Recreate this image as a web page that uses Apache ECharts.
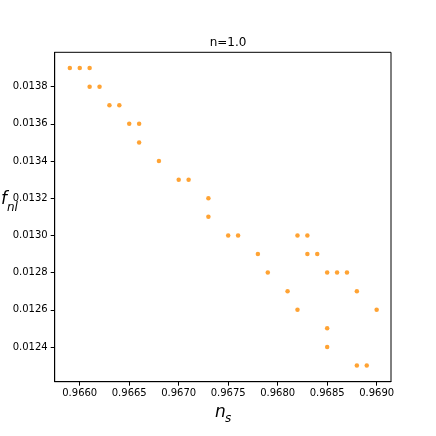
<!DOCTYPE html>
<html>
<head>
<meta charset="utf-8">
<script src="https://cdn.jsdelivr.net/npm/echarts@6/dist/echarts.min.js"></script>
<style>html,body{margin:0;padding:0;background:#fff}#c{width:436px;height:436px}</style>
</head>
<body>
<div id="c"></div>
<script>
var nsValues = [0.9659, 0.9660, 0.9661, 0.9661, 0.9662, 0.9663, 0.9664, 0.9665, 0.9666, 0.9666,
  0.9668, 0.9670, 0.9671, 0.9673, 0.9673, 0.9675, 0.9676, 0.9682, 0.9683, 0.9678,
  0.9683, 0.9684, 0.9679, 0.9685, 0.9686, 0.9687, 0.9681, 0.9688, 0.9682, 0.9690,
  0.9685, 0.9685, 0.9688, 0.9689];
var fnlValues = [0.0139, 0.0139, 0.0139, 0.0138, 0.0138, 0.0137, 0.0137, 0.0136, 0.0136, 0.0135,
  0.0134, 0.0133, 0.0133, 0.0132, 0.0131, 0.0130, 0.0130, 0.0130, 0.0130, 0.0129,
  0.0129, 0.0129, 0.0128, 0.0128, 0.0128, 0.0128, 0.0127, 0.0127, 0.0126, 0.0126,
  0.0125, 0.0124, 0.0123, 0.0123];
var xTicks = [0.9660, 0.9665, 0.9670, 0.9675, 0.9680, 0.9685, 0.9690];
var yTicks = [0.0124, 0.0126, 0.0128, 0.0130, 0.0132, 0.0134, 0.0136, 0.0138];
var titleText = 'n=1.0';

var points = nsValues.map(function (x, i) { return [x, fnlValues[i]]; });
var font = 'DejaVu Sans';
var chart = echarts.init(document.getElementById('c'), null, {renderer: 'canvas'});
chart.setOption({
  animation: false,
  backgroundColor: '#fff',
  title: {
    text: titleText, left: 223, top: 32, textAlign: 'center',
    textStyle: {fontFamily: font, fontSize: 12, fontWeight: 'normal', color: '#000'}
  },
  grid: {left: 54.7, right: 45, top: 52.3, bottom: 54.3, show: true, borderColor: '#000', borderWidth: 1, backgroundColor: 'transparent'},
  xAxis: {
    type: 'value', min: 0.965747, max: 0.969145,
    splitLine: {show: false},
    axisLine: {show: true, lineStyle: {color: '#000', width: 1}},
    axisTick: {show: true, length: 4, inside: false, customValues: xTicks, lineStyle: {color: '#000', width: 1}},
    axisLabel: {customValues: xTicks, margin: 7, fontFamily: font, fontSize: 10, color: '#000',
      formatter: function (v) { return v.toFixed(4); }}
  },
  yAxis: {
    type: 'value', min: 0.012213, max: 0.013985,
    splitLine: {show: false},
    axisLine: {show: true, lineStyle: {color: '#000', width: 1}},
    axisTick: {show: true, length: 4, inside: false, customValues: yTicks, lineStyle: {color: '#000', width: 1}},
    axisLabel: {customValues: yTicks, margin: 7, fontFamily: font, fontSize: 10, color: '#000',
      formatter: function (v) { return v.toFixed(4); }}
  },
  graphic: [
    {type: 'text', x: 215, y: 404, style: {text: 'n', font: 'italic 17px "DejaVu Sans"', fill: '#000'}},
    {type: 'text', x: 225, y: 413, style: {text: 's', font: 'italic 12px "DejaVu Sans"', fill: '#000'}},
    {type: 'text', x: 1, y: 191, style: {text: 'f', font: 'italic 17px "DejaVu Sans"', fill: '#000'}},
    {type: 'text', x: 7, y: 202, style: {text: 'nl', font: 'italic 12px "DejaVu Sans"', fill: '#000'}}
  ],
  series: [{
    type: 'scatter', data: points, symbol: 'circle', symbolSize: 4.5,
    itemStyle: {color: '#ff8c00'}
  }]
});
</script>
</body>
</html>
